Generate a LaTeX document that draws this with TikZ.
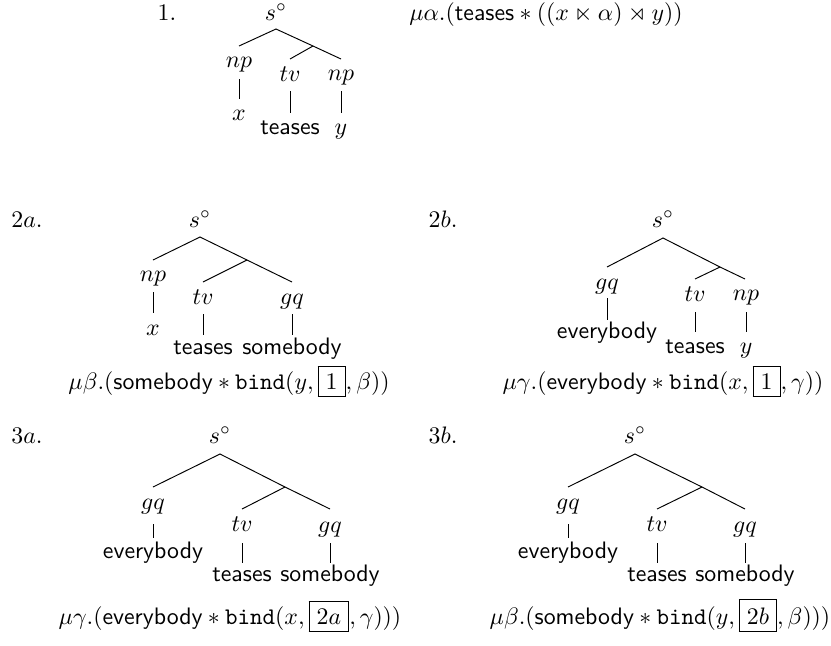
\documentclass[tikz,border=0pt]{standalone}
\usepackage{amssymb}
\begin{document}
\begin{tikzpicture}[x=0.42pt,y=-0.42pt,
  lab/.style={anchor=base,inner sep=0pt},
  br/.style={line width=0.4pt}]
\useasboundingbox (0,0) rectangle (831,645);

% ---------- Tree 1 ----------
\node[lab] (n1) at (167,20) {$1.$};
\node[lab] (r1) at (276,20) {$s^\circ$};
\node[lab] (f1) at (546,20) {$\mu\alpha.(\textsf{teases} * ((x \ltimes \alpha) \rtimes y))$};
\coordinate (a1) at (276,29);
\coordinate (l1) at (239,46);
\coordinate (i1) at (313,46);
\coordinate (t1) at (290,59);
\coordinate (e1) at (341,59);
\draw[br] (l1) -- (a1) -- (i1) -- (e1);
\draw[br] (i1) -- (t1);
\node[lab] (np1) at (239,67) {$np$};
\node[lab] (tv1) at (290,81) {$tv$};
\node[lab] (nq1) at (341,80) {$np$};
\coordinate (p1a) at (239,79); \coordinate (p1b) at (239,99);
\coordinate (q1a) at (290,91); \coordinate (q1b) at (290,113);
\coordinate (s1a) at (341,91); \coordinate (s1b) at (341,113);
\draw[br] (p1a) -- (p1b); \draw[br] (q1a) -- (q1b); \draw[br] (s1a) -- (s1b);
\node[lab] (x1) at (239,120) {$x$};
\node[lab] (w1) at (290,134) {\textsf{teases}};
\node[lab] (y1) at (341,134) {$y$};

% ---------- Tree 2a ----------
\node[lab] (n2) at (27,227) {$2a.$};
\node[lab] (r2) at (200,227) {$s^\circ$};
\coordinate (a2) at (200,237);
\coordinate (l2) at (153,260);
\coordinate (i2) at (247,260);
\coordinate (t2) at (203,282);
\coordinate (e2) at (292,282);
\draw[br] (l2) -- (a2) -- (i2) -- (e2);
\draw[br] (i2) -- (t2);
\node[lab] (np2) at (153,281) {$np$};
\node[lab] (tv2) at (203,304) {$tv$};
\node[lab] (gq2) at (292,304) {$gq$};
\coordinate (p2a) at (153,292); \coordinate (p2b) at (153,313);
\coordinate (q2a) at (203,314); \coordinate (q2b) at (203,335);
\coordinate (s2a) at (292,314); \coordinate (s2b) at (292,335);
\draw[br] (p2a) -- (p2b); \draw[br] (q2a) -- (q2b); \draw[br] (s2a) -- (s2b);
\node[lab] (x2) at (153,335) {$x$};
\node[lab] (w2) at (203,354) {\textsf{teases}};
\node[lab] (v2) at (292,354) {\textsf{somebody}};
\node[lab] (f2) at (229,389) {$\mu\beta.(\textsf{somebody} * \texttt{bind}(y,\fbox{$1$},\beta))$};

% ---------- Tree 2b ----------
\node[lab] (n3) at (443,227) {$2b.$};
\node[lab] (r3) at (663,227) {$s^\circ$};
\coordinate (a3) at (663,238);
\coordinate (l3) at (607,267);
\coordinate (i3) at (720,267);
\coordinate (t3) at (695,279);
\coordinate (e3) at (745,279);
\draw[br] (l3) -- (a3) -- (i3) -- (e3);
\draw[br] (i3) -- (t3);
\node[lab] (gq3) at (607,289) {$gq$};
\node[lab] (tv3) at (695,301) {$tv$};
\node[lab] (np3) at (746,300) {$np$};
\coordinate (p3a) at (607,298); \coordinate (p3b) at (607,320);
\coordinate (q3a) at (695,312); \coordinate (q3b) at (695,332);
\coordinate (s3a) at (746,312); \coordinate (s3b) at (746,332);
\draw[br] (p3a) -- (p3b); \draw[br] (q3a) -- (q3b); \draw[br] (s3a) -- (s3b);
\node[lab] (e3w) at (607,338) {\textsf{everybody}};
\node[lab] (w3) at (695,353) {\textsf{teases}};
\node[lab] (y3) at (746,353) {$y$};
\node[lab] (f3) at (663,389) {$\mu\gamma.(\textsf{everybody} * \texttt{bind}(x,\fbox{$1$},\gamma))$};

% ---------- Tree 3a ----------
\node[lab] (n4) at (27,443) {$3a.$};
\node[lab] (r4) at (220,443) {$s^\circ$};
\coordinate (a4) at (220,454);
\coordinate (l4) at (153,487);
\coordinate (i4) at (285,487);
\coordinate (t4) at (242,509);
\coordinate (e4) at (330,509);
\draw[br] (l4) -- (a4) -- (i4) -- (e4);
\draw[br] (i4) -- (t4);
\node[lab] (gq4) at (153,509) {$gq$};
\node[lab] (tv4) at (242,531) {$tv$};
\node[lab] (gr4) at (330,532) {$gq$};
\coordinate (p4a) at (153,524); \coordinate (p4b) at (153,538);
\coordinate (q4a) at (242,543); \coordinate (q4b) at (242,563);
\coordinate (s4a) at (330,543); \coordinate (s4b) at (330,563);
\draw[br] (p4a) -- (p4b); \draw[br] (q4a) -- (q4b); \draw[br] (s4a) -- (s4b);
\node[lab] (e4w) at (153,558) {\textsf{everybody}};
\node[lab] (w4) at (242,581) {\textsf{teases}};
\node[lab] (v4) at (330,581) {\textsf{somebody}};
\node[lab] (f4) at (230,624) {$\mu\gamma.(\textsf{everybody} * \texttt{bind}(x,\fbox{$2a$},\gamma)))$};

% ---------- Tree 3b ----------
\node[lab] (n5) at (443,443) {$3b.$};
\node[lab] (r5) at (635,443) {$s^\circ$};
\coordinate (a5) at (635,454);
\coordinate (l5) at (568,487);
\coordinate (i5) at (702,487);
\coordinate (t5) at (657,509);
\coordinate (e5) at (745,509);
\draw[br] (l5) -- (a5) -- (i5) -- (e5);
\draw[br] (i5) -- (t5);
\node[lab] (gq5) at (568,509) {$gq$};
\node[lab] (tv5) at (657,531) {$tv$};
\node[lab] (gr5) at (745,532) {$gq$};
\coordinate (p5a) at (568,524); \coordinate (p5b) at (568,538);
\coordinate (q5a) at (657,543); \coordinate (q5b) at (657,563);
\coordinate (s5a) at (745,543); \coordinate (s5b) at (745,563);
\draw[br] (p5a) -- (p5b); \draw[br] (q5a) -- (q5b); \draw[br] (s5a) -- (s5b);
\node[lab] (e5w) at (568,558) {\textsf{everybody}};
\node[lab] (w5) at (657,581) {\textsf{teases}};
\node[lab] (v5) at (745,581) {\textsf{somebody}};
\node[lab] (f5) at (660,624) {$\mu\beta.(\textsf{somebody} * \texttt{bind}(y,\fbox{$2b$},\beta)))$};
\end{tikzpicture}
\end{document}
